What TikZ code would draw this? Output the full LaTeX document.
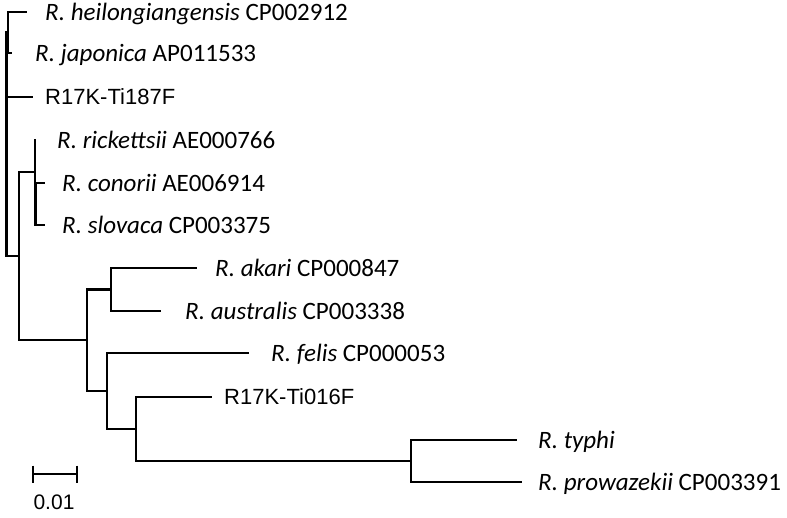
\documentclass[tikz,border=0pt]{standalone}
\usepackage{fontspec}
\setmainfont{Carlito}
\newfontfamily\arialfont{Liberation Sans}
\usepackage{tikz}

\begin{document}
\begin{tikzpicture}[x=1pt, y=-1pt,
    branch/.style={line width=2.2pt, line join=miter},
    taxon/.style={anchor=base west, yshift=-8pt, inner sep=0pt, font=\fontsize{25}{30}\selectfont},
    isolate/.style={anchor=base west, yshift=-7.9pt, inner sep=0pt, font=\arialfont\fontsize{22}{26}\selectfont}]
    \useasboundingbox (0,0) rectangle (787,517);
    % Nodi interni
    \coordinate (root) at (6.5,144);
    \coordinate (hj) at (8,32);
    \coordinate (rt) at (19,256);
    \coordinate (spg) at (35,172);
    \coordinate (cs) at (35.5,204);
    \coordinate (tg) at (87,340);
    \coordinate (aa) at (111,289.5);
    \coordinate (ff) at (107,391);
    \coordinate (tr) at (136,429);
    \coordinate (tp) at (411,461);
    % Foglie
    \coordinate (heil) at (27,12);
    \coordinate (jap) at (12,53);
    \coordinate (ti187) at (33,97);
    \coordinate (ric) at (36,140);
    \coordinate (con) at (45,183);
    \coordinate (slo) at (45,225);
    \coordinate (aka) at (197,268);
    \coordinate (aus) at (161,311);
    \coordinate (fel) at (249,353);
    \coordinate (ti016) at (212,397);
    \coordinate (typ) at (517,440);
    \coordinate (pro) at (522,482);
    % Rami
    \draw[branch] (root) |- (hj);
    \draw[branch] (root) |- (ti187);
    \draw[branch] (root) |- (rt);
    \draw[branch] (hj) |- (heil);
    \draw[branch] (hj) |- (jap);
    \draw[branch] (rt) |- (spg);
    \draw[branch] (rt) |- (tg);
    \draw[branch] (spg) |- (ric);
    \draw[branch] (spg) |- (cs);
    \draw[branch] (cs) |- (con);
    \draw[branch] (cs) |- (slo);
    \draw[branch] (tg) |- (aa);
    \draw[branch] (tg) |- (ff);
    \draw[branch] (aa) |- (aka);
    \draw[branch] (aa) |- (aus);
    \draw[branch] (ff) |- (fel);
    \draw[branch] (ff) |- (tr);
    \draw[branch] (tr) |- (ti016);
    \draw[branch] (tr) |- (tp);
    \draw[branch] (tp) |- (typ);
    \draw[branch] (tp) |- (pro);
    % Etichette
    \node[taxon] (l-heil) at (45,12) {\textit{R. heilongiangensis} CP002912};
    \node[taxon] (l-jap) at (35,53) {\textit{R. japonica} AP011533};
    \node[isolate] (l-ti187) at (45,97) {R17K-Ti187F};
    \node[taxon] (l-ric) at (57,140) {\textit{R. rickettsii} AE000766};
    \node[taxon] (l-con) at (62,183) {\textit{R. conorii} AE006914};
    \node[taxon] (l-slo) at (62,225) {\textit{R. slovaca} CP003375};
    \node[taxon] (l-aka) at (215,268) {\textit{R. akari} CP000847};
    \node[taxon] (l-aus) at (185,311) {\textit{R. australis} CP003338};
    \node[taxon] (l-fel) at (271,353) {\textit{R. felis} CP000053};
    \node[isolate] (l-ti016) at (224,397) {R17K-Ti016F};
    \node[taxon] (l-typ) at (538,440) {\textit{R. typhi}};
    \node[taxon] (l-pro) at (538,482) {\textit{R. prowazekii} CP003391};
    % Scala
    \coordinate (sb-l) at (33,474);
    \coordinate (sb-r) at (77,474);
    \draw[branch] (sb-l) -- (sb-r);
    \draw[branch] ([yshift=8.5pt]sb-l) -- ([yshift=-8.5pt]sb-l);
    \draw[branch] ([yshift=8.5pt]sb-r) -- ([yshift=-8.5pt]sb-r);
    \node[font=\arialfont\fontsize{21}{25}\selectfont, inner sep=0pt] (l-scale) at (54,502) {0.01};
\end{tikzpicture}
\end{document}
